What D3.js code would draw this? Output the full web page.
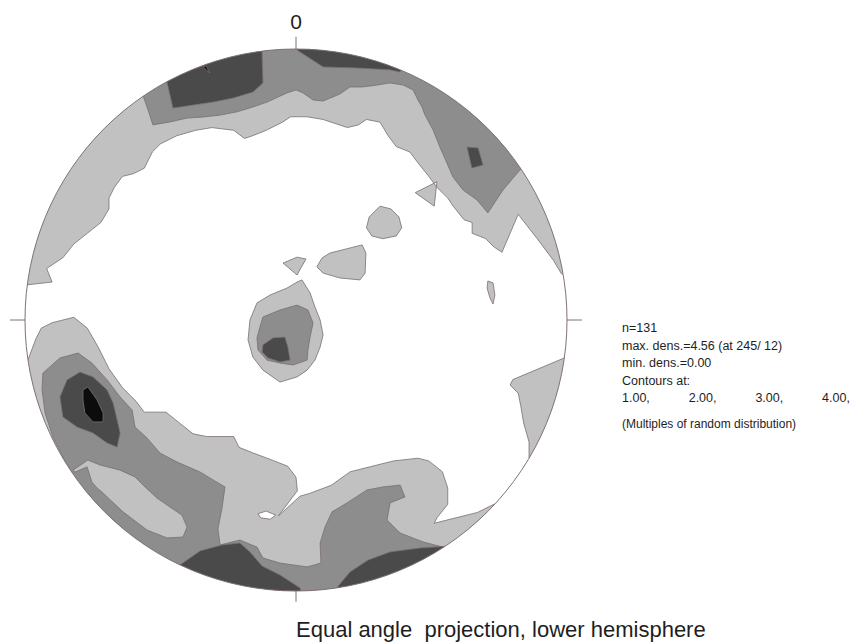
<!DOCTYPE html>
<html>
<head>
<meta charset="utf-8">
<script src="https://cdn.jsdelivr.net/npm/d3@7/dist/d3.min.js"></script>
<style>
  body { margin: 0; background: #fff; }
  text { font-family: "Liberation Sans", Arial, sans-serif; fill: #1e1e1e; }
</style>
</head>
<body>
<div id="stereonet"></div>
<script>
// contour rings, projection plane coords in % of the primitive circle radius (x east, y north)
// rings that touch the primitive are closed outside the circle, the clip cuts them off

// >= 1.00
var topBand = [[-99,13],[-90,14],[-92,19],[-86,23],[-82,28],[-77,32],[-72,36],[-69,41],[-69,45],[-67,49],[-64,53],[-60,54],[-56,56],[-53,62],[-50,65],[-44,68],[-37,70],[-31,71],[-23,70],[-19,67],[-16,68],[-11,70],[-5,73],[-2,75],[4,75],[10,74],[16,72],[19,71],[23,72],[26,74],[31,73],[34,68],[37,64],[42,62],[45,58],[49,53],[52,49],[56,45],[58,42],[62,37],[65,36],[65,32],[70,30],[73,27],[76,25],[82,39],[89,30],[95,22],[98,17],[115,17],[115,115],[-115,115],[-115,13]];
var eastPatch = [[99,-14],[80,-22],[79,-24],[82,-27],[83,-32],[84,-38],[86,-45],[86,-51],[115,-51],[115,-14]];
var bottomBand = [[-99,-15],[-96,-7],[-94,-3],[-90,-1],[-82,1],[-77,-3],[-73,-10],[-69,-18],[-64,-25],[-59,-30],[-56,-34],[-48,-34],[-43,-38],[-38,-42],[-33,-43],[-23,-43],[-21,-47],[-16,-49],[-8,-52],[-3,-54],[0,-58],[0.5,-63],[-6.5,-72.3],[1.5,-65],[5,-64],[13,-61],[20,-56],[28,-54],[36,-52],[45,-51],[49,-52],[54,-56],[56,-62],[56,-68],[52,-73],[51,-75],[59,-73],[67,-71],[73,-68],[115,-68],[115,-115],[-115,-115],[-115,-15]];
var bottomHole = [[-14,-71.5],[-11,-70.5],[-7.5,-72],[-9.5,-73.5],[-13,-73]];
var isleTriangle = [[44,47],[52,51],[51,42]];
var isleRound = [[31,42],[35,41],[38,38],[39,34],[37,31],[32,30],[28,31],[26,34],[27,38]];
var isleFlat = [[12.5,24.7],[20,26.6],[24.4,27.7],[25.8,24.7],[25.5,17.3],[23.6,14.8],[16.2,15.5],[10,17.3],[7.7,19.6],[9.6,22.9]];
var isleSmall = [[-4.8,21],[0.4,23.2],[3.7,22.5],[1.8,19.2],[0.4,16.6]];
var isleSliver = [[70.8,14.4],[72.7,13.7],[73.4,9.2],[72.7,5.9],[71.6,8.1],[70.5,11.8]];
var centre1 = [[2.2,14.8],[5.2,10],[7,4.8],[8.9,0],[10,-5.5],[8.9,-10],[7,-14.8],[4.1,-18.5],[0.4,-21],[-5.9,-22.9],[-12.2,-18.5],[-15.9,-13.7],[-17.7,-7.4],[-17,0],[-14.4,6.3],[-9.6,9.2],[-3.3,11.8],[0.4,14]];

// >= 2.00
var topBand2 = [[-56.5,83],[-54.6,77.5],[-52.8,72],[-46.5,73.1],[-40.2,74.5],[-34.3,74.9],[-28,75.6],[-21.8,76.8],[-15.9,78.6],[-10.7,80.4],[-3.3,83.8],[0,84.9],[2.6,83.8],[6.3,81.2],[10,80.8],[16.2,83.4],[19.9,86],[24.7,86],[29.9,86.7],[34.7,87.5],[39.5,86.7],[43.2,84.9],[45,81.2],[46.5,78.6],[47.6,75.6],[50.6,70.1],[53.1,63.8],[55.7,57.9],[57.9,52.8],[61.6,48],[66.8,44.3],[70.8,39.5],[76.4,48],[82.7,55.4],[110,70],[0,120],[-70,100]];
var bottomBand2 = [[-84.1,-54.2],[-86,-50.6],[-89.7,-43.2],[-92.6,-34.3],[-93.7,-25.8],[-93.4,-19.6],[-87.1,-14],[-80.4,-12.2],[-75.3,-15.9],[-69.7,-22.1],[-64.9,-28.4],[-60.5,-33.2],[-59.4,-39.5],[-55,-43.5],[-50.2,-49.1],[-43.9,-52.4],[-35.4,-56.1],[-30.6,-59],[-26.2,-61.6],[-27.3,-69.4],[-28.8,-77.1],[-28,-83],[-20.7,-81.2],[-14.4,-83.8],[-12.2,-87.8],[-5.9,-89.7],[4.1,-91.1],[9.2,-89.7],[8.9,-82.3],[10.7,-76.4],[13.3,-70.8],[18.8,-67.5],[26.2,-62.7],[32.1,-61.6],[38.4,-60.9],[40.2,-65.3],[34.7,-67.5],[33.6,-73.8],[38.4,-78.6],[46.9,-81.9],[54.2,-83.8],[70,-110],[0,-120],[-100,-75]];
var bottomStrip = [[-82.3,-55.4],[-76.8,-51.7],[-72.3,-53.5],[-64.9,-55.4],[-59.4,-57.9],[-55.7,-61.6],[-51.3,-65.7],[-46.5,-69],[-42.1,-72],[-40.2,-76.4],[-41.7,-80.1],[-47.6,-80.4],[-55,-77.5],[-63.8,-70.8],[-69.7,-65.3],[-71.2,-63.8],[-73.4,-62],[-75.3,-59.8],[-77.1,-54.2],[-81.5,-56.1]];
var centre2 = [[-12.2,1.1],[-5.9,3.7],[0.4,5.5],[4.4,3.7],[6.3,-1.1],[5.2,-6.3],[4.4,-11.1],[4.1,-14.8],[-1.1,-16.6],[-5.9,-15.9],[-10.7,-14.8],[-14,-11.1],[-14.4,-6.6],[-13.3,-2.6]];

// >= 3.00
var northWest3 = [[-47.6,87.8],[-45.4,78.2],[-38,79.3],[-30.6,80.4],[-23.2,81.9],[-15.9,84.1],[-12.2,87.5],[-12.5,97.8],[-12.5,115],[-55,105]];
var north3 = [[0.4,99.6],[10,93.4],[22.5,93],[34.7,92.3],[38.4,91.5],[45,110],[0,115]];
var northEast3 = [[63.1,63.8],[67.2,63.5],[69,57.2],[64.9,56.1]];
var centre3 = [[-12.2,-9.2],[-8.5,-6.6],[-4.1,-6.3],[-3,-10],[-2.2,-14.8],[-5.9,-15.5],[-10.3,-14],[-12.5,-11.8]];
var west3 = [[-87.1,-28.4],[-84.5,-22.1],[-79.7,-19.2],[-74.9,-21],[-69.7,-25.8],[-67.5,-30.6],[-66,-36.9],[-64.9,-41.7],[-66,-46.9],[-69.7,-45.4],[-74.9,-41.7],[-80.8,-39.5],[-86,-35.8]];
var southWest3 = [[-42.8,-90.4],[-35.4,-85.2],[-27.3,-83],[-20.7,-82.3],[-17,-85.6],[-12.5,-90.8],[-5.9,-94.1],[1.5,-98.9],[5,-115],[-50,-110]];
var southEast3 = [[14.4,-99.6],[19.9,-93],[26.6,-88.6],[34.7,-85.6],[45.8,-84.1],[56.8,-83.4],[60,-110],[15,-115]];

// >= 4.00
var west4 = [[-78.6,-25.8],[-76.8,-24.7],[-73.4,-29.5],[-71.2,-34.3],[-71.2,-37.6],[-74.9,-37.6],[-77.9,-34.3],[-78.6,-29.5]];
var northWest4 = [[-34.3,93.4],[-33.2,93.8],[-31.7,91.1]];

var contourLevels = [1.00, 2.00, 3.00, 4.00];
var nPoints = 131, maxDens = 4.56, maxAt = "245/ 12", minDens = 0.00;
var titleText = "Equal angle  projection, lower hemisphere";

var levelRings = [
    [topBand, eastPatch, bottomBand, bottomHole, isleTriangle, isleRound, isleFlat, isleSmall, isleSliver, centre1],
    [topBand2, bottomBand2, bottomStrip, centre2],
    [northWest3, north3, northEast3, centre3, west3, southWest3, southEast3],
    [west4, northWest4]
];
var fills = ["#c1c1c1", "#8d8d8d", "#4a4a4a", "#0c0c0c"];

var width = 853, height = 643;
var cx = 296, cy = 320, R = 271;

var svg = d3.select("#stereonet")
    .append("svg")
    .attr("width", width)
    .attr("height", height)
    .style("display", "block");

var x = d3.scaleLinear().domain([-100, 100]).range([cx - R, cx + R]);
var y = d3.scaleLinear().domain([-100, 100]).range([cy + R, cy - R]);

var ring = d3.line()
    .x(d => x(d[0]))
    .y(d => y(d[1]))
    .curve(d3.curveLinearClosed);

svg.append("clipPath")
    .attr("id", "primitive")
    .append("circle")
    .attr("cx", x(0))
    .attr("cy", y(0))
    .attr("r", x(100) - x(0));

var net = svg.append("g").attr("clip-path", "url(#primitive)");

// each level is one path, holes come out with evenodd
net.selectAll("path.level")
    .data(levelRings)
    .join("path")
    .attr("class", "level")
    .attr("d", rings => rings.map(r => ring(r)).join(""))
    .attr("fill", (d, i) => fills[i])
    .attr("fill-rule", "evenodd")
    .attr("stroke", "#7a6e6d")
    .attr("stroke-width", 0.8)
    .attr("stroke-linejoin", "round");

// primitive circle
svg.append("circle")
    .attr("cx", x(0))
    .attr("cy", y(0))
    .attr("r", x(100) - x(0))
    .attr("fill", "none")
    .attr("stroke", "#7f7270")
    .attr("stroke-width", 1);

// N, E, S, W ticks
var ticks = [[0, 100, 0, 104.5], [100, 0, 105.5, 0], [0, -100, 0, -104], [-100, 0, -105.5, 0]];
svg.selectAll("line.tick")
    .data(ticks)
    .join("line")
    .attr("class", "tick")
    .attr("x1", d => x(d[0]))
    .attr("y1", d => y(d[1]))
    .attr("x2", d => x(d[2]))
    .attr("y2", d => y(d[3]))
    .attr("stroke", "#7f7270")
    .attr("stroke-width", 1);

svg.append("text")
    .attr("x", x(0))
    .attr("y", y(0) - R - 20)
    .attr("text-anchor", "middle")
    .attr("font-size", 21)
    .text("0");

// stats block
var info = svg.append("g")
    .attr("transform", "translate(622,0)")
    .attr("font-size", 12.5);

var infoLines = [
    "n=" + nPoints,
    "max. dens.=" + maxDens.toFixed(2) + " (at " + maxAt + ")",
    "min. dens.=" + minDens.toFixed(2),
    "Contours at:"
];
info.selectAll("text.line")
    .data(infoLines)
    .join("text")
    .attr("class", "line")
    .attr("y", (d, i) => 332 + i * 17.5)
    .text(d => d);

info.selectAll("text.lev")
    .data(contourLevels)
    .join("text")
    .attr("class", "lev")
    .attr("x", (d, i) => i * 66.7)
    .attr("y", 332 + 4 * 17.5)
    .text(d => d.toFixed(2) + ",");

info.append("text")
    .attr("y", 428)
    .attr("font-size", 12)
    .text("(Multiples of random distribution)");

svg.append("text")
    .attr("x", x(0))
    .attr("y", 637)
    .attr("font-size", 22)
    .style("white-space", "pre")
    .text(titleText);
</script>
</body>
</html>
